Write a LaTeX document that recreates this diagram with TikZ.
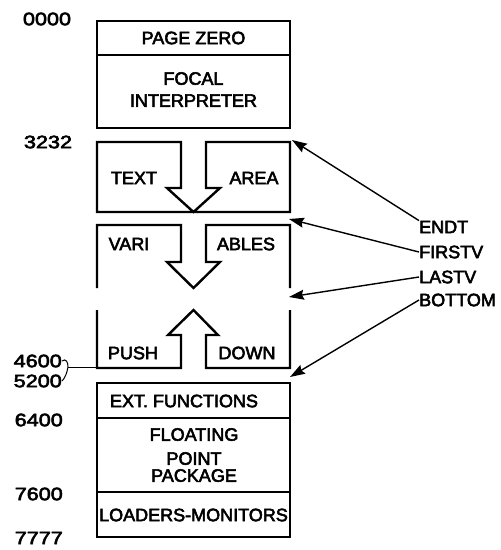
\documentclass[tikz,border=0pt]{standalone}
\usepackage{graphicx}
\usepackage{fontspec}
\setmainfont[RawFeature={embolden=3}]{Liberation Sans}
\usetikzlibrary{arrows.meta}
\newcommand{\wide}[1]{\scalebox{1.2}[1]{#1}}

\begin{document}
\begin{tikzpicture}[x=1pt,y=-1pt,>={Stealth[length=15pt,width=10pt,inset=2pt]},
  box/.style={line width=2.4pt,line join=miter},
  lbl/.style={font=\fontsize{18}{19}\selectfont,inner sep=0pt,align=center},
  addr/.style={font=\fontsize{18}{19}\selectfont,inner sep=0pt},
  ptr/.style={->,line width=1.4pt}]
  \useasboundingbox (0,0) rectangle (501,550);
  % memory blocks
  \draw[box] (97,21) rectangle (290,128);
  \draw[box] (97,55) -- (290,55);
  \draw[box] (181,188) -- (181,142) -- (97,142) -- (97,212) -- (290,212) -- (290,142)
    -- (206,142) -- (206,188) -- (220,188) -- (193.5,212) -- (167,188) -- cycle;
  \draw[box] (97,288) -- (97,225) -- (181,225) -- (181,262) -- (167,262) -- (193.5,288)
    -- (220,262) -- (206,262) -- (206,225) -- (290,225) -- (290,288);
  \draw[box] (97,310) -- (97,368) -- (181,368) -- (181,335) -- (168,335) -- (193.5,310)
    -- (218,335) -- (206,335) -- (206,368) -- (290,368) -- (290,310);
  \draw[box] (97,383) rectangle (290,537);
  \draw[box] (97,418) -- (290,418);
  \draw[box] (97,492) -- (290,492);
  % block names
  \node[lbl] (pz) at (193.5,38) {PAGE ZERO};
  \node[lbl,anchor=north] (focal) at (193.5,72) {FOCAL\\[3pt]INTERPRETER};
  \node[lbl] (text) at (134,178) {TEXT};
  \node[lbl] (area) at (254,178) {AREA};
  \node[lbl] (vari) at (129,244) {VARI};
  \node[lbl] (ables) at (246,244) {ABLES};
  \node[lbl] (push) at (133,353) {PUSH};
  \node[lbl] (down) at (247,353) {DOWN};
  \node[lbl] (ext) at (184,401) {EXT. FUNCTIONS};
  \node[lbl,anchor=north] (fpp) at (194,428) {FLOATING\\[5pt]POINT\\[-2pt]PACKAGE};
  \node[lbl] (loaders) at (193.5,515) {LOADERS-MONITORS};
  % addresses
  \node[addr] (a0000) at (47,19) {\wide{0000}};
  \node[addr] (a3232) at (48,142) {\wide{3232}};
  \node[addr,anchor=east] (a4600) at (62,361) {\wide{4600}};
  \node[addr,anchor=east] (a5200) at (62,381) {\wide{5200}};
  \node[addr,anchor=east] (a6400) at (63,420) {\wide{6400}};
  \node[addr,anchor=east] (a7600) at (63,494) {\wide{7600}};
  \node[addr,anchor=east] (a7777) at (63,538) {\wide{7777}};
  \coordinate (brc) at (68,367);
  \coordinate (pdl) at (97,367);
  \draw[line width=1pt] (a4600.east) .. controls (66,358) and (68,362) .. (brc)
    .. controls (67,373) and (65,378) .. (a5200.east);
  \draw[line width=0.8pt] (brc) -- (pdl);
  % pointers
  \node[addr,anchor=west] (endt) at (419,227) {ENDT};
  \node[addr,anchor=west] (firstv) at (419,252) {FIRSTV};
  \node[addr,anchor=west] (lastv) at (419,277) {LASTV};
  \node[addr,anchor=west] (bottom) at (419,300) {BOTTOM};
  \coordinate (t1) at (292,140);
  \coordinate (t2) at (289,219);
  \coordinate (t3) at (289,297);
  \coordinate (t4) at (290,377);
  \draw[ptr] (endt.north west) -- (t1);
  \draw[ptr] (firstv.west) -- (t2);
  \draw[ptr] (lastv.west) -- (t3);
  \draw[ptr] (bottom.west) -- (t4);
\end{tikzpicture}
\end{document}
